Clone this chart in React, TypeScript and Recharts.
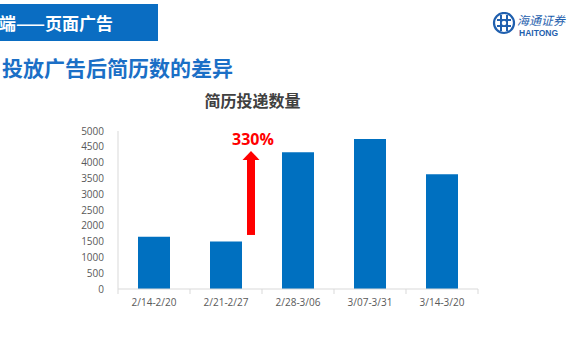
import { BarChart, Bar, XAxis, YAxis, Rectangle } from "recharts";

const categories = ["2/14-2/20", "2/21-2/27", "2/28-3/06", "3/07-3/31", "3/14-3/20"];
const resumes = [1650, 1500, 4330, 4750, 3630];
const yTicks = [0, 500, 1000, 1500, 2000, 2500, 3000, 3500, 4000, 4500, 5000];

// red arrow annotation next to the 2nd bar
const arrowIndex = 1;
const arrowFrom = 1710;
const arrowTo = 4370;
const arrowLabel = "330%";

const headerText = "端——页面广告";
const pageTitle = "投放广告后简历数的差异";
const chartTitle = "简历投递数量";

const W = 570;
const H = 360;
const M = { top: 131, right: 92, bottom: 41, left: 68 };
const Y_WIDTH = 50;
const BAND = (W - M.left - M.right - Y_WIDTH) / categories.length;

const BLUE = "#0070C0";
const AXIS = "#D9D9D9";
const TICK = "#595959";
const CJK = '"Noto Sans CJK SC", sans-serif';

const data = categories.map((name, i) => ({ name, value: resumes[i] }));

function XTick(props: any) {
  const { x, y, payload, index } = props;
  const half = BAND / 2;
  return (
    <g>
      <line x1={x - half} x2={x - half} y1={y} y2={y + 5} stroke={AXIS} />
      {index === categories.length - 1 && (
        <line x1={x + half} x2={x + half} y1={y} y2={y + 5} stroke={AXIS} />
      )}
      <text x={x} y={y + 17} textAnchor="middle" fontSize={10} fill={TICK} fontFamily="Open Sans">
        {payload.value}
      </text>
    </g>
  );
}

function BarShape(props: any) {
  const { x, y, width, height, index, value } = props;
  const v = Array.isArray(value) ? value[1] : value;
  let arrow = null;
  if (index === arrowIndex && v) {
    const base = y + height;
    const toY = (n: number) => base - (n * height) / v;
    const cx = x + width + 9;
    const tip = toY(arrowTo);
    const start = toY(arrowFrom);
    const headH = 9;
    arrow = (
      <g>
        <rect x={cx - 4} y={tip + headH - 1} width={8} height={start - tip - headH + 1} fill="#FF0000" />
        <polygon points={`${cx - 8.5},${tip + headH} ${cx + 8.5},${tip + headH} ${cx},${tip}`} fill="#FF0000" />
        <text x={cx + 2} y={tip - 6} textAnchor="middle" fontSize={16} fontWeight="bold" fill="#FF0000" fontFamily="Open Sans">
          {arrowLabel}
        </text>
      </g>
    );
  }
  return (
    <g>
      <Rectangle x={x} y={y} width={width} height={height} fill={BLUE} />
      {arrow}
    </g>
  );
}

function Logo() {
  return (
    <div style={{ position: "absolute", left: 492, top: 12, width: 78, height: 28, overflow: "hidden" }}>
      <svg width={24} height={24} style={{ position: "absolute", left: 0, top: 0 }}>
        <circle cx={12} cy={11} r={10} fill="none" stroke="#1F5FAE" strokeWidth={2.2} />
        <path d="M5 8 H19 M5 14 H19 M9 3 V19 M15 3 V19" stroke="#1F5FAE" strokeWidth={2} fill="none" />
        <circle cx={12} cy={11} r={3} fill="#fff" stroke="#1F5FAE" strokeWidth={1.5} />
      </svg>
      <div style={{ position: "absolute", left: 25, top: 1, fontFamily: CJK, fontSize: 12, fontStyle: "italic", color: "#1F5FAE", whiteSpace: "nowrap", lineHeight: "13px" }}>
        海通证券
      </div>
      <div style={{ position: "absolute", left: 27, top: 17, fontFamily: "Liberation Sans", fontWeight: "bold", fontSize: 8.5, color: "#1F5FAE", whiteSpace: "nowrap", lineHeight: "9px" }}>
        HAITONG
      </div>
    </div>
  );
}

export default function App() {
  return (
    <div style={{ position: "fixed", left: 0, top: 0, width: W, height: H, background: "#fff", overflow: "hidden" }}>
      <div style={{ position: "absolute", left: 0, top: 4, width: 158, height: 37, background: "#0A6DC2" }} />
      <div style={{ position: "absolute", left: -1, top: 12, fontFamily: CJK, fontWeight: "bold", fontSize: 17, color: "#fff", lineHeight: "22px", whiteSpace: "nowrap" }}>
        {headerText}
      </div>
      <div style={{ position: "absolute", left: 2, top: 53, fontFamily: CJK, fontWeight: "bold", fontSize: 21, color: "#1B6FC6", lineHeight: "28px", whiteSpace: "nowrap" }}>
        {pageTitle}
      </div>
      <Logo />
      <div style={{ position: "absolute", left: 0, top: 89, width: 505, textAlign: "center", fontFamily: CJK, fontWeight: "bold", fontSize: 16, color: "#404040", lineHeight: "22px" }}>
        {chartTitle}
      </div>
      <div style={{ position: "absolute", left: 0, top: 0 }}>
        <BarChart width={W} height={H} data={data} margin={M} barSize={32}>
          <XAxis
            dataKey="name"
            stroke={AXIS}
            tickLine={false}
            tickSize={0}
            tickMargin={0}
            tick={<XTick />}
            height={30}
            interval={0}
          />
          <YAxis
            domain={[0, 5000]}
            ticks={yTicks}
            interval={0}
            width={Y_WIDTH}
            stroke={AXIS}
            tickLine={false}
            tickMargin={8}
            tick={{ fontSize: 10, fill: TICK, fontFamily: "Open Sans" }}
          />
          <Bar dataKey="value" fill={BLUE} isAnimationActive={false} shape={<BarShape />} />
        </BarChart>
      </div>
    </div>
  );
}
